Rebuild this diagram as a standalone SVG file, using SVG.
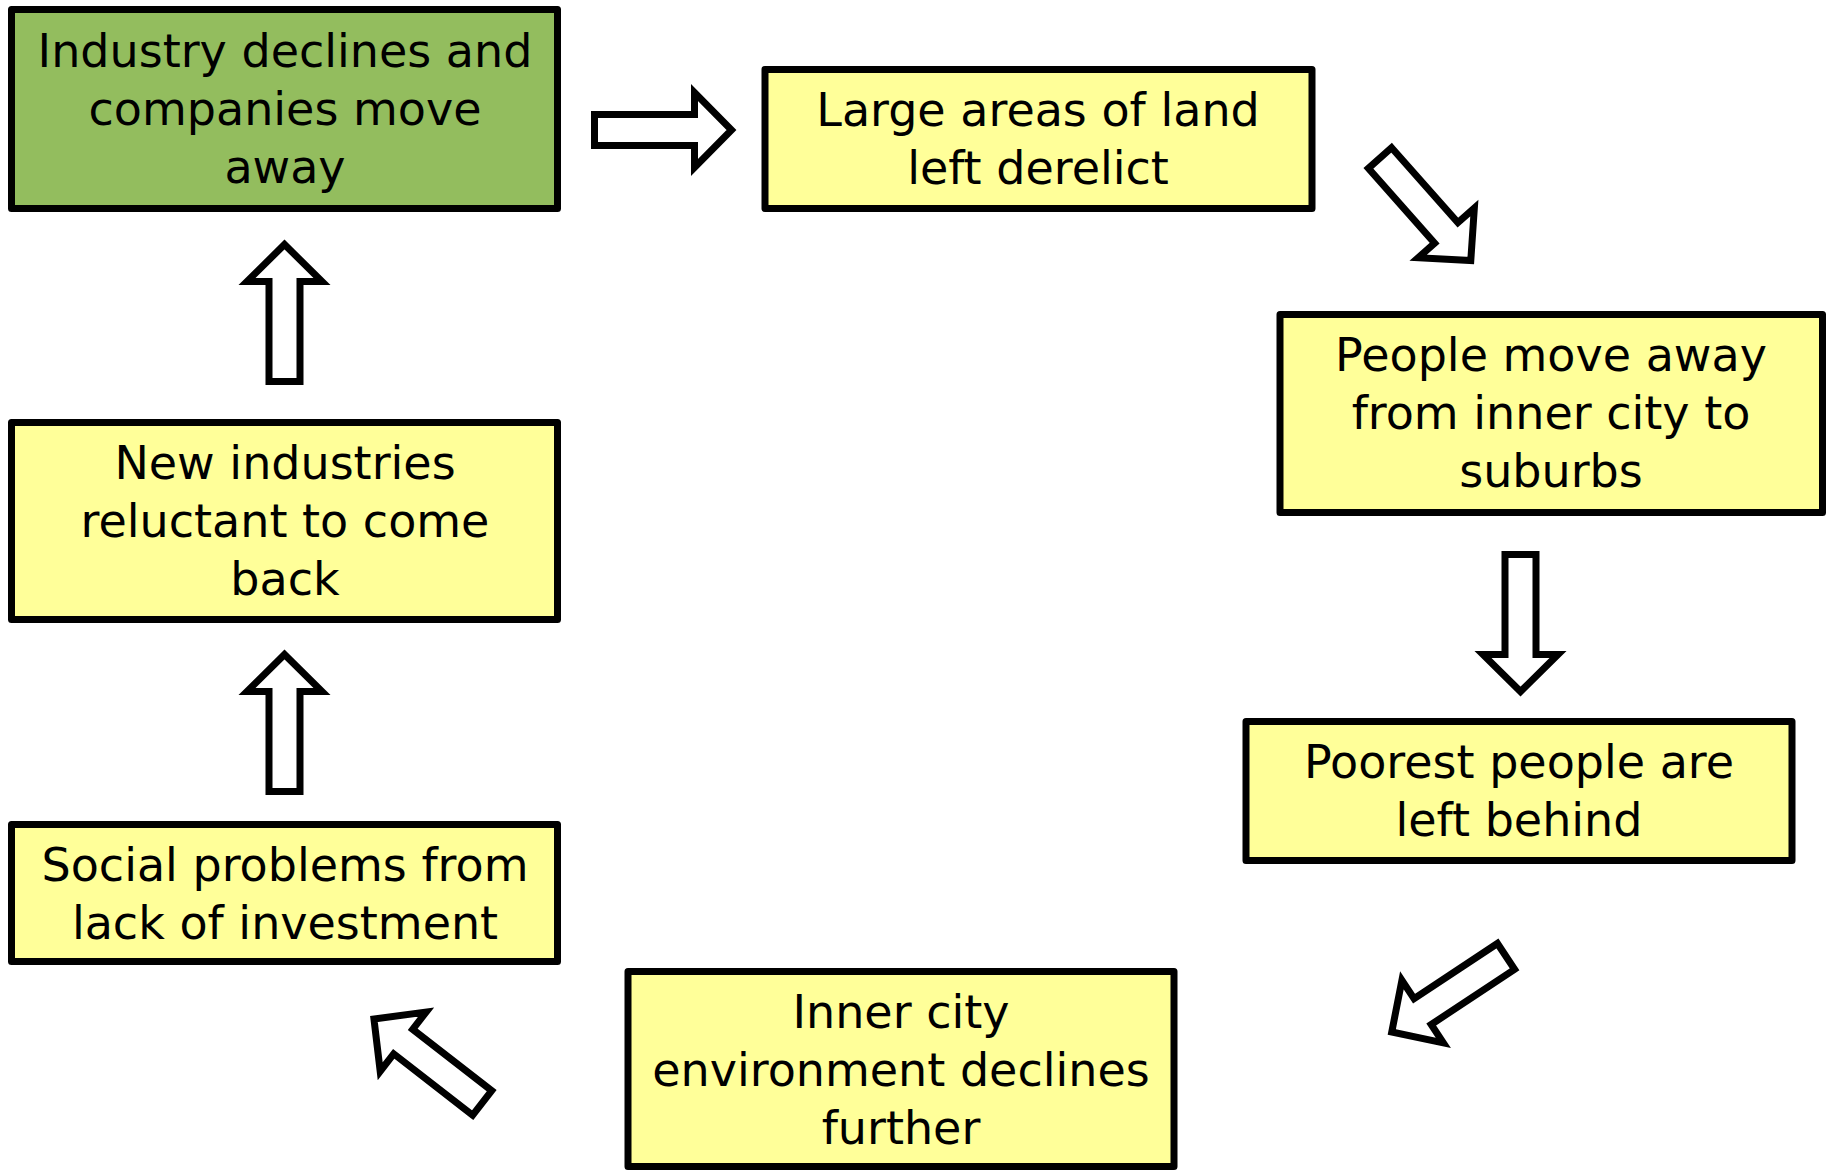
<svg xmlns="http://www.w3.org/2000/svg" xmlns:xlink="http://www.w3.org/1999/xlink" width="1828" height="1170" viewBox="0 0 1828 1170">
<style>
.box{stroke:#000;stroke-width:7;stroke-linejoin:round}
.y{fill:#FFFF99}
.g{fill:#93BD5E}
.t{font-family:"DejaVu Sans","Liberation Sans",sans-serif;font-size:46px;fill:#000;text-anchor:middle}
.arr{fill:#fff;stroke:#000;stroke-width:7;stroke-linejoin:miter}
</style>
<defs>
<path id="arrow" d="M0,-15.5 H100 V-37.5 L137,0 L100,37.5 V15.5 H0 Z"/>
</defs>
<rect width="1828" height="1170" fill="#fff"/>
<g id="connectors" class="arr">
<use xlink:href="#arrow" href="#arrow" transform="translate(594.5,130) rotate(0)"/>
<use xlink:href="#arrow" href="#arrow" transform="translate(1380,158) rotate(48.5)"/>
<use xlink:href="#arrow" href="#arrow" transform="translate(1520.5,554.5) rotate(90)"/>
<use xlink:href="#arrow" href="#arrow" transform="translate(1506,956.4) rotate(146.5)"/>
<use xlink:href="#arrow" href="#arrow" transform="translate(482.2,1102.9) rotate(217.8)"/>
<use xlink:href="#arrow" href="#arrow" transform="translate(284.5,791.5) rotate(-90)"/>
<use xlink:href="#arrow" href="#arrow" transform="translate(284.5,381.5) rotate(-90)"/>
</g>
<g id="n1">
<rect class="box g" x="11.5" y="9.5" width="546" height="199"/>
<text class="t" x="285" y="67">Industry declines and</text>
<text class="t" x="285" y="125">companies move</text>
<text class="t" x="285" y="183">away</text>
</g>
<g id="n2">
<rect class="box y" x="765" y="69.5" width="547" height="139"/>
<text class="t" x="1038" y="126">Large areas of land</text>
<text class="t" x="1038" y="184">left derelict</text>
</g>
<g id="n3">
<rect class="box y" x="1280" y="314.5" width="542.5" height="198"/>
<text class="t" x="1551" y="371">People move away</text>
<text class="t" x="1551" y="429">from inner city to</text>
<text class="t" x="1551" y="487">suburbs</text>
</g>
<g id="n4">
<rect class="box y" x="1246" y="721.5" width="546" height="139"/>
<text class="t" x="1519" y="778">Poorest people are</text>
<text class="t" x="1519" y="836">left behind</text>
</g>
<g id="n5">
<rect class="box y" x="628" y="971.5" width="546" height="195"/>
<text class="t" x="901" y="1028">Inner city</text>
<text class="t" x="901" y="1086">environment declines</text>
<text class="t" x="901" y="1144">further</text>
</g>
<g id="n6">
<rect class="box y" x="11.5" y="824.5" width="546" height="137"/>
<text class="t" x="285" y="881">Social problems from</text>
<text class="t" x="285" y="939">lack of investment</text>
</g>
<g id="n7">
<rect class="box y" x="11.5" y="422.5" width="546" height="197"/>
<text class="t" x="285" y="479">New industries</text>
<text class="t" x="285" y="537">reluctant to come</text>
<text class="t" x="285" y="595">back</text>
</g>
</svg>
